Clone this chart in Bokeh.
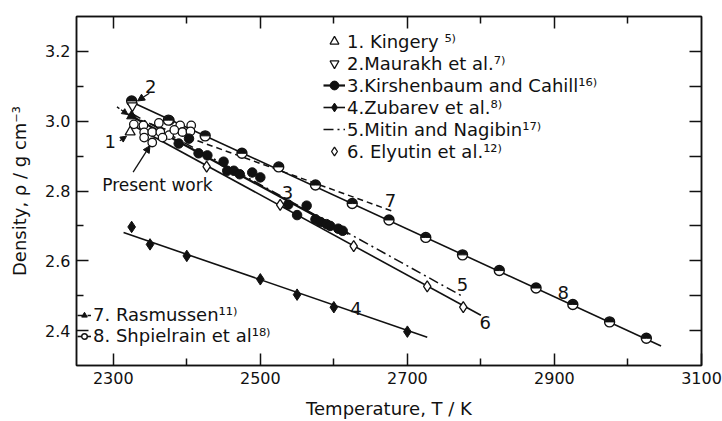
import numpy as np
from bokeh.plotting import figure
from bokeh.models import (Range1d, LinearAxis, FixedTicker, PrintfTickFormatter,
                          Legend, LegendItem, Label, Arrow, NormalHead)
from bokeh.core.properties import value
from bokeh.embed import file_html
from bokeh.resources import INLINE

# ---------------- data (T / K, density g cm^-3) ----------------
kingery_T = [2323]
kingery_rho = [2.969]

maurakh_T = [2326]
maurakh_rho = [3.044]

kirsh_T = [2389, 2403, 2416, 2428, 2450, 2455, 2464, 2472, 2489, 2500,
           2538, 2550, 2563, 2575, 2582, 2590, 2595, 2606, 2612]
kirsh_rho = [2.936, 2.950, 2.908, 2.902, 2.884, 2.858, 2.858, 2.848, 2.853, 2.839,
             2.761, 2.731, 2.758, 2.719, 2.711, 2.705, 2.700, 2.692, 2.686]
kirsh_fit_T = [2320, 2620]
kirsh_fit_rho = [3.020, 2.677]

zubarev_T = [2325, 2350, 2400, 2500, 2550, 2600, 2700]
zubarev_rho = [2.697, 2.647, 2.614, 2.547, 2.503, 2.467, 2.397]
zubarev_fit_T = [2314, 2727]
zubarev_fit_rho = [2.681, 2.381]

mitin_fit_T = [2325, 2776]
mitin_fit_rho = [3.022, 2.497]

elyutin_T = [2427, 2527, 2627, 2727, 2776]
elyutin_rho = [2.870, 2.760, 2.642, 2.527, 2.467]
elyutin_fit_T = [2325, 2800]
elyutin_fit_rho = [2.990, 2.444]

rasmussen_T = [2325]
rasmussen_rho = [3.015]
rasmussen_fit_T = [2325, 2680]
rasmussen_fit_rho = [3.012, 2.742]

shpiel_T = [2325, 2375, 2425, 2475, 2525, 2575, 2625, 2675, 2725, 2775,
            2825, 2875, 2925, 2975, 3025]
shpiel_rho = [3.058, 3.003, 2.958, 2.908, 2.869, 2.817, 2.764, 2.717, 2.667, 2.617,
              2.572, 2.522, 2.475, 2.425, 2.378]
shpiel_fit_T = [2325, 3045]
shpiel_fit_rho = [3.055, 2.356]

present_T = [2328, 2341, 2362, 2377, 2391, 2406, 2342, 2353, 2364, 2376,
             2394, 2405, 2342, 2353, 2367, 2383]
present_rho = [2.991, 2.988, 2.995, 3.002, 2.988, 2.988, 2.968, 2.969, 2.969, 2.960,
               2.969, 2.971, 2.953, 2.939, 2.953, 2.975]

x_major = [2300, 2500, 2700, 2900, 3100]
x_minor = [2400, 2600, 2800, 3000]
y_major = [2.4, 2.6, 2.8, 3.0, 3.2]
y_minor = [2.5, 2.7, 2.9, 3.1]
y_right = [2.4, 2.5, 2.6, 2.7, 2.8, 2.9, 3.0, 3.1, 3.2]

# curve number labels
num_text = ["1", "2", "3", "4", "5", "6", "7", "8"]
num_T = [2296, 2351, 2537, 2630, 2775, 2806, 2677, 2912]
num_rho = [2.942, 3.100, 2.797, 2.464, 2.531, 2.422, 2.772, 2.508]

FONT = "DejaVu Sans"
BLACK = "#111111"

p = figure(width=722, height=421, x_range=Range1d(2250, 3100), y_range=Range1d(2.3, 3.3),
           output_backend="svg", toolbar_location=None,
           min_border_left=76, min_border_right=21, min_border_top=16, min_border_bottom=46)
p.xgrid.visible = False
p.ygrid.visible = False
p.outline_line_color = BLACK
p.outline_line_width = 1.5
p.background_fill_color = "white"
p.border_fill_color = "white"

# ---------------- lines ----------------
r_shp_line = p.line(shpiel_fit_T, shpiel_fit_rho, line_color=BLACK, line_width=1.6)
r_ras_line = p.line(rasmussen_fit_T, rasmussen_fit_rho, line_color=BLACK, line_width=1.5,
                    line_dash="6 4")
r_ely_line = p.line(elyutin_fit_T, elyutin_fit_rho, line_color=BLACK, line_width=1.6)
r_mit_line = p.line(mitin_fit_T, mitin_fit_rho, line_color=BLACK, line_width=1.5,
                    line_dash="10 4 2 4")
r_kir_line = p.line(kirsh_fit_T, kirsh_fit_rho, line_color=BLACK, line_width=2.2)
r_zub_line = p.line(zubarev_fit_T, zubarev_fit_rho, line_color=BLACK, line_width=1.6)

# ---------------- points ----------------
r_pres = p.scatter(present_T, present_rho, marker="circle", size=8.5, fill_color="white",
                   line_color=BLACK, line_width=1.3)
r_shp_pts = p.scatter(shpiel_T, shpiel_rho, marker="circle", size=10, fill_color="white",
                      line_color=BLACK, line_width=1.4)
p.wedge(shpiel_T, shpiel_rho, radius=4.5, radius_units="screen", start_angle=0,
        end_angle=np.pi, fill_color=BLACK, line_color=BLACK)
r_ely_pts = p.scatter(elyutin_T, elyutin_rho, marker="diamond", size=11, fill_color="white",
                      line_color=BLACK, line_width=1.3)
r_kir_pts = p.scatter(kirsh_T, kirsh_rho, marker="circle", size=9.5, fill_color=BLACK,
                      line_color=BLACK)
r_zub_pts = p.scatter(zubarev_T, zubarev_rho, marker="diamond", size=11.5, fill_color=BLACK,
                      line_color=BLACK)
r_king = p.scatter(kingery_T, kingery_rho, marker="triangle", size=10, fill_color="white",
                   line_color=BLACK, line_width=1.3)
r_maur = p.scatter(maurakh_T, maurakh_rho, marker="inverted_triangle", size=10,
                   fill_color="white", line_color=BLACK, line_width=1.3)
r_ras_pts = p.scatter(rasmussen_T, rasmussen_rho, marker="triangle", size=10,
                      fill_color=BLACK, line_color=BLACK)

# ---------------- number labels ----------------
p.text(num_T, num_rho, text=num_text, text_font=value(FONT), text_font_size="18px",
       text_align="center", text_baseline="middle", text_color=BLACK)
p.add_layout(Label(x=2360, y=2.817, text="Present work", text_font=FONT,
                   text_font_size="17px", text_align="center", text_baseline="middle",
                   text_color=BLACK))

# arrows
p.add_layout(Arrow(end=NormalHead(size=7, fill_color=BLACK, line_color=BLACK),
                   x_start=2327, y_start=2.854, x_end=2350, y_end=2.930,
                   line_width=1.3, line_color=BLACK))
p.add_layout(Arrow(end=NormalHead(size=7, fill_color=BLACK, line_color=BLACK),
                   x_start=2349, y_start=3.080, x_end=2333, y_end=3.058,
                   line_width=1.3, line_color=BLACK))
p.add_layout(Arrow(end=NormalHead(size=6, fill_color=BLACK, line_color=BLACK),
                   x_start=2309, y_start=2.944, x_end=2318, y_end=2.957,
                   line_width=1.3, line_color=BLACK))
p.add_layout(Arrow(end=NormalHead(size=6, fill_color=BLACK, line_color=BLACK),
                   x_start=2305, y_start=3.041, x_end=2320, y_end=3.019,
                   line_width=1.3, line_color=BLACK, line_dash="3 2"))

# ---------------- axes ----------------
xa = p.xaxis[0]
xa.ticker = FixedTicker(ticks=x_major, minor_ticks=x_minor)
xa.formatter = PrintfTickFormatter(format="%d")
xa.axis_label = "Temperature, T / K"
ya = p.yaxis[0]
ya.ticker = FixedTicker(ticks=y_major, minor_ticks=y_minor)
ya.formatter = PrintfTickFormatter(format="%.1f")
ya.axis_label = "Density, ρ / g cm⁻³"

top = LinearAxis(ticker=FixedTicker(ticks=x_major[:-1], minor_ticks=x_minor))
right = LinearAxis(ticker=FixedTicker(ticks=y_right, minor_ticks=[]))
p.add_layout(top, "above")
p.add_layout(right, "right")

for ax in [xa, ya, top, right]:
    ax.axis_line_color = BLACK
    ax.axis_line_width = 1.5
    ax.major_tick_line_color = BLACK
    ax.major_tick_line_width = 1.5
    ax.minor_tick_line_color = BLACK
    ax.minor_tick_line_width = 1.5
    ax.major_tick_in = 12
    ax.major_tick_out = 0
    ax.minor_tick_in = 7
    ax.minor_tick_out = 0
    ax.major_label_text_font = FONT
    ax.major_label_text_font_size = "16px"
    ax.major_label_text_color = BLACK
    ax.axis_label_text_font = FONT
    ax.axis_label_text_font_size = "18px"
    ax.axis_label_text_font_style = "normal"
    ax.axis_label_text_color = BLACK
for ax in [top, right]:
    ax.major_label_text_color = None
    ax.major_label_text_font_size = "1px"
    ax.major_label_standoff = 0
xa.major_label_standoff = 6
ya.major_label_standoff = 6
xa.axis_label_standoff = 11
ya.axis_label_standoff = 12

# ---------------- legends ----------------
leg_top = Legend(items=[
    LegendItem(label="1. Kingery ⁵⁾", renderers=[r_king]),
    LegendItem(label="2.Maurakh et al.⁷⁾", renderers=[r_maur]),
    LegendItem(label="3.Kirshenbaum and Cahill¹⁶⁾", renderers=[r_kir_line, r_kir_pts]),
    LegendItem(label="4.Zubarev et al.⁸⁾", renderers=[r_zub_line, r_zub_pts]),
    LegendItem(label="5.Mitin and Nagibin¹⁷⁾", renderers=[r_mit_line]),
    LegendItem(label="6. Elyutin et al.¹²⁾", renderers=[r_ely_pts]),
], location=(247, 203))
leg_bot = Legend(items=[
    LegendItem(label="7. Rasmussen¹¹⁾", renderers=[r_ras_line, r_ras_pts]),
    LegendItem(label="8. Shpielrain et al¹⁸⁾", renderers=[r_shp_line, r_shp_pts]),
], location=(1, 19))
for lg, gw, lh in [(leg_top, 22, 22), (leg_bot, 14, 20)]:
    lg.border_line_color = None
    lg.background_fill_alpha = 0
    lg.label_text_font = FONT
    lg.label_text_font_size = "18px"
    lg.label_text_color = BLACK
    lg.glyph_width = gw
    lg.glyph_height = lh
    lg.label_height = lh
    lg.label_standoff = 2
    lg.spacing = 0
    lg.padding = 0
    lg.margin = 0
    p.add_layout(lg)

open("out.html", "w").write(file_html(p, INLINE))
